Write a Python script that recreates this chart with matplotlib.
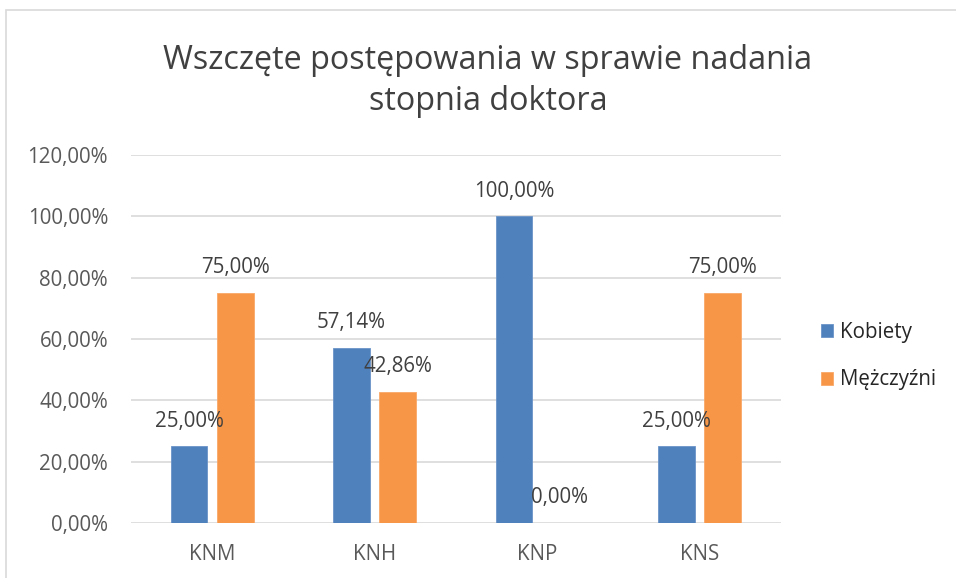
import matplotlib
matplotlib.use("Agg")
import matplotlib.pyplot as plt
import numpy as np
from matplotlib.patches import Rectangle

categories = ["KNM", "KNH", "KNP", "KNS"]
kobiety = [0.25, 0.5714, 1.00, 0.25]
mezczyzni = [0.75, 0.4286, 0.00, 0.75]
series_names = ["Kobiety", "Mężczyźni"]
yticks = [0.0, 0.2, 0.4, 0.6, 0.8, 1.0, 1.2]

plt.rcParams['font.family'] = ['Open Sans', 'DejaVu Sans']

W, H = 956, 578
fig = plt.figure(figsize=(W/100, H/100), dpi=100)
fig.patch.set_facecolor("white")

# chart frame
fig.patches.append(Rectangle((6/W, -0.1), 1.2, (1 - 10/H) + 0.1, transform=fig.transFigure,
                             fill=False, edgecolor="#D9D9D9", linewidth=1.2))

ax = fig.add_axes([131/W, 1 - 523/H, (780.5 - 131)/W, (523 - 155)/H])
x = np.arange(len(categories))
bw = 0.225
off = 0.142
blue = "#4F81BD"
orange = "#F79646"
b1 = ax.bar(x - off, kobiety, bw, color=blue, edgecolor="#6A93C8", linewidth=0.6, label=series_names[0], zorder=3)
b2 = ax.bar(x + off, mezczyzni, bw, color=orange, edgecolor="#F9A868", linewidth=0.6, label=series_names[1], zorder=3)

def fmt(v):
    return ("%.2f%%" % (v * 100)).replace(".", ",")

FS = 14.8
for bars, vals in ((b1, kobiety), (b2, mezczyzni)):
    for rect, v in zip(bars, vals):
        ax.annotate(fmt(v), (rect.get_x() + rect.get_width() / 2, v), xytext=(0, 25),
                    textcoords="offset pixels", ha="center", va="center",
                    fontsize=FS, color="#404040", zorder=5)

ax.set_xlim(-0.5, len(categories) - 0.5)
ax.set_ylim(0, 1.2)
ax.set_yticks(yticks)
ax.set_yticklabels([fmt(v) for v in yticks], fontsize=FS, color="#595959")
ax.set_xticks(x)
ax.set_xticklabels(categories, fontsize=FS, color="#595959")
ax.tick_params(axis="both", length=0)
ax.tick_params(axis="y", pad=16.5)
ax.tick_params(axis="x", pad=15)
ax.grid(axis="y", color="#D9D9D9", linewidth=1.2, zorder=0)
for s in ax.spines.values():
    s.set_visible(False)

fig.text(488/W, 1 - 81/H, "Wszczęte postępowania w sprawie nadania\nstopnia doktora",
         ha="center", va="center", fontsize=23.3, color="#404040", linespacing=1.3)

leg = fig.legend(handles=[b1, b2], labels=series_names, loc="center left",
                 bbox_to_anchor=(802/W, 1 - 356/H), frameon=False, fontsize=FS,
                 handlelength=0.6, handleheight=0.6, handletextpad=0.35, labelspacing=1.3)
for t in leg.get_texts():
    t.set_color("#262626")

fig.savefig("out.png", dpi=100, facecolor="white")
